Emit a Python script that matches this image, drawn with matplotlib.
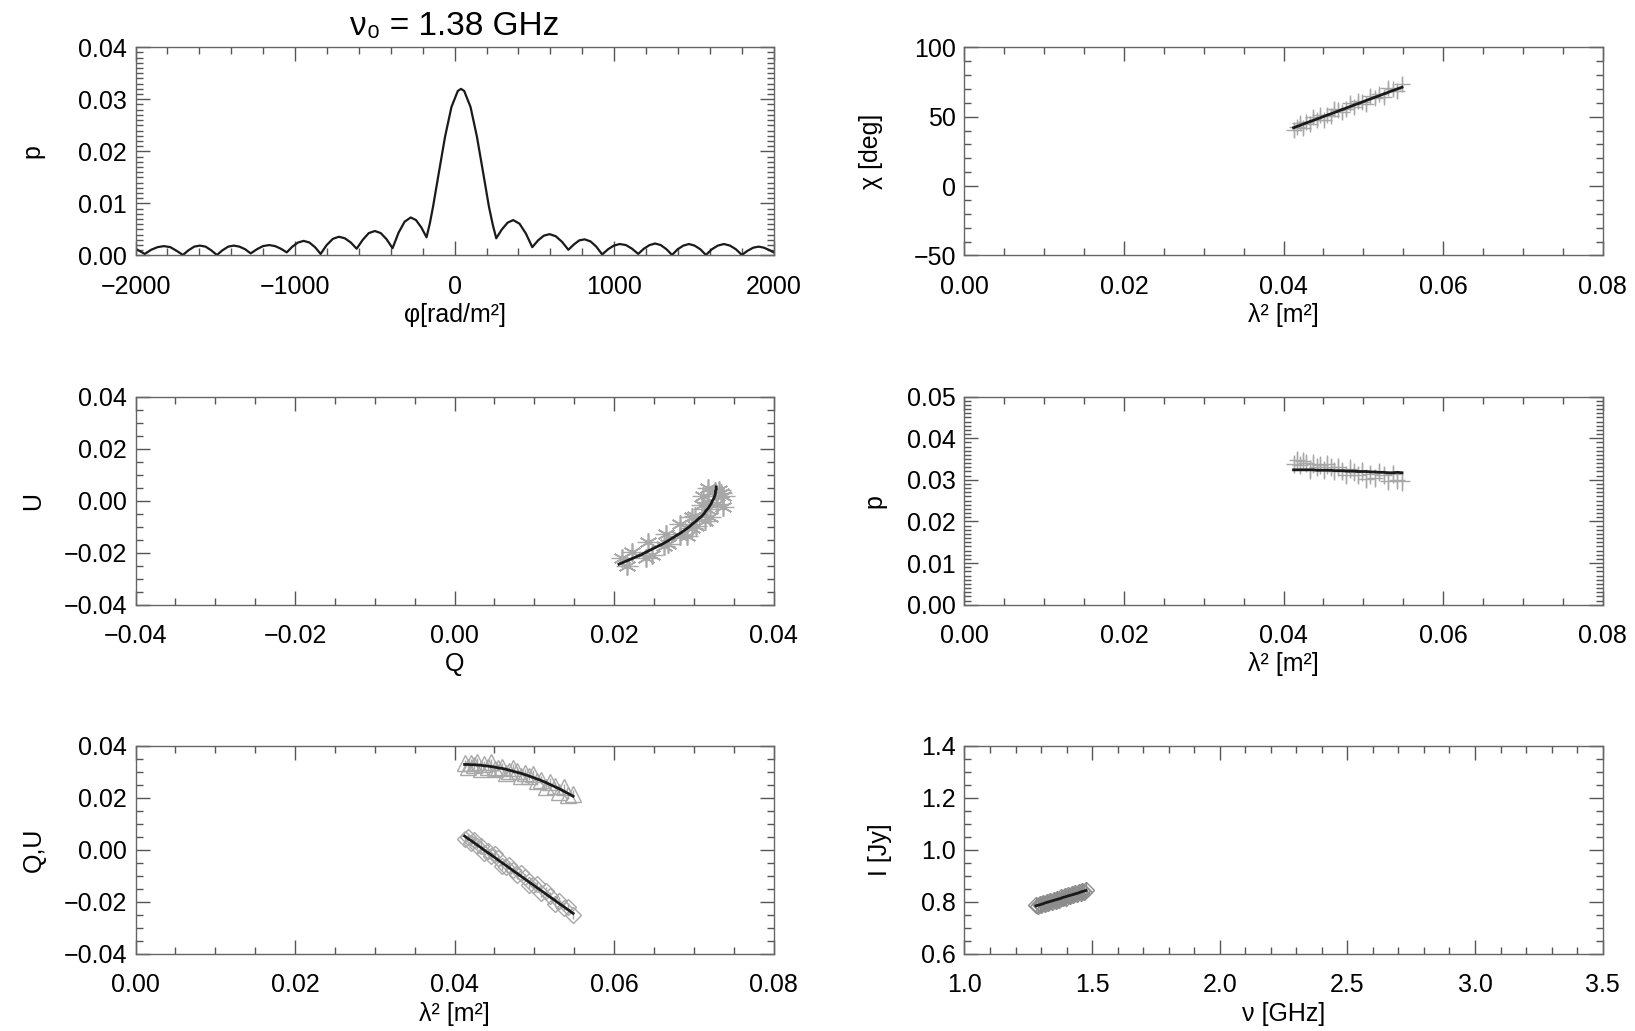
import matplotlib.pyplot as plt
from matplotlib.ticker import MultipleLocator, FuncFormatter

plt.rcParams['font.family'] = ['Liberation Sans', 'DejaVu Sans']
plt.rcParams['font.size'] = 18

# Faraday spectrum amplitude |F(phi)|
phi = [-2000, -1971, -1942, -1902, -1862, -1822, -1782, -1743, -1703,
       -1668, -1632, -1597, -1561, -1526, -1490,
       -1455, -1419, -1384, -1349, -1313, -1278,
       -1239, -1201, -1162, -1125, -1089, -1052,
       -1017, -981, -946, -911, -875, -840,
       -802, -763, -725, -688, -651, -614,
       -576, -538, -500, -463, -426, -389,
       -351, -313, -275, -242, -209, -176,
       -155, -135, -100, -60, -20, 20, 40, 60, 100, 140, 180, 215, 240, 261,
       296, 332, 367, 407, 447, 487,
       523, 559, 595, 634, 674, 713,
       747, 781, 815, 852, 888, 925,
       962, 998, 1035, 1074, 1112, 1151,
       1186, 1222, 1257, 1292, 1328, 1363,
       1398, 1434, 1469, 1504, 1540, 1575,
       1613, 1650, 1688, 1726, 1763, 1801,
       1836, 1872, 1907, 1938, 1969, 2000]
p_phi = [0.0013, 0.0008, 0.0003, 0.0011, 0.0016, 0.0018, 0.0016, 0.0009, 0.0001,
         0.0010, 0.0017, 0.0019, 0.0017, 0.0010, 0.0001,
         0.0010, 0.0017, 0.0019, 0.0017, 0.0012, 0.0004,
         0.0012, 0.0018, 0.0020, 0.0018, 0.0013, 0.0006,
         0.0017, 0.0025, 0.0028, 0.0025, 0.0016, 0.0003,
         0.0020, 0.0032, 0.0036, 0.0033, 0.0025, 0.0013,
         0.0030, 0.0043, 0.0047, 0.0043, 0.0031, 0.0014,
         0.0044, 0.0065, 0.0073, 0.0068, 0.0054, 0.0035,
         0.0062, 0.0094, 0.0157, 0.0228, 0.0285, 0.0316, 0.0320, 0.0316, 0.0285, 0.0228,
         0.0157, 0.0094, 0.0058, 0.0033,
         0.0050, 0.0063, 0.0068, 0.0061, 0.0042, 0.0016,
         0.0029, 0.0038, 0.0041, 0.0037, 0.0026, 0.0011,
         0.0021, 0.0029, 0.0031, 0.0027, 0.0017, 0.0002,
         0.0012, 0.0019, 0.0022, 0.0020, 0.0013, 0.0003,
         0.0013, 0.0020, 0.0023, 0.0020, 0.0012, 0.0001,
         0.0012, 0.0019, 0.0022, 0.0019, 0.0012, 0.0001,
         0.0012, 0.0019, 0.0022, 0.0019, 0.0012, 0.0001,
         0.0009, 0.0015, 0.0017, 0.0015, 0.0011, 0.0006]

# channel data (frequency ascending)
nu_ghz = [1.280, 1.287, 1.294, 1.301, 1.308, 1.315, 1.322, 1.329, 1.336, 1.343,
          1.350, 1.357, 1.364, 1.371, 1.378, 1.385, 1.392, 1.399, 1.406, 1.413,
          1.420, 1.427, 1.434, 1.441, 1.448, 1.455, 1.462, 1.469, 1.476]
lam2 = [0.05485, 0.05426, 0.05367, 0.05310, 0.05253, 0.05197, 0.05142, 0.05088, 0.05035, 0.04983,
        0.04931, 0.04881, 0.04831, 0.04781, 0.04733, 0.04685, 0.04638, 0.04592, 0.04546, 0.04501,
        0.04457, 0.04414, 0.04371, 0.04328, 0.04286, 0.04245, 0.04205, 0.04165, 0.04125]

q_obs = [0.0216, 0.0210, 0.0240, 0.0223, 0.0247, 0.0262, 0.0243, 0.0268, 0.0265, 0.0291,
         0.0282, 0.0297, 0.0283, 0.0303, 0.0314, 0.0301, 0.0297, 0.0320, 0.0316, 0.0310,
         0.0336, 0.0318, 0.0329, 0.0311, 0.0337, 0.0326, 0.0334, 0.0318, 0.0332]
u_obs = [-0.0251, -0.0219, -0.0222, -0.0196, -0.0207, -0.0176, -0.0158, -0.0167, -0.0130, -0.0136,
         -0.0135, -0.0106, -0.0088, -0.0097, -0.0078, -0.0058, -0.0064, -0.0062, -0.0031, -0.0015,
         -0.0025, -0.0006, -0.0012, 0.0016, 0.0016, 0.0039, 0.0028, 0.0049, 0.0041]
q_mod = [0.0206, 0.0216, 0.0226, 0.0235, 0.0243, 0.0251, 0.0259, 0.0266, 0.0272, 0.0278,
         0.0284, 0.0289, 0.0294, 0.0298, 0.0302, 0.0306, 0.0310, 0.0313, 0.0315, 0.0318,
         0.0320, 0.0322, 0.0323, 0.0325, 0.0326, 0.0327, 0.0327, 0.0328, 0.0328]
u_mod = [-0.0244, -0.0231, -0.0218, -0.0206, -0.0193, -0.0181, -0.0169, -0.0157, -0.0146, -0.0134,
         -0.0123, -0.0112, -0.0101, -0.0090, -0.0080, -0.0069, -0.0059, -0.0049, -0.0039, -0.0029,
         -0.0019, -0.0010, -0.0001, 0.0009, 0.0018, 0.0027, 0.0036, 0.0044, 0.0053]

p_obs = [0.0296, 0.0300, 0.0314, 0.0298, 0.0311, 0.0319, 0.0305, 0.0313, 0.0303, 0.0320,
         0.0311, 0.0319, 0.0327, 0.0311, 0.0322, 0.0330, 0.0321, 0.0330, 0.0337, 0.0323,
         0.0335, 0.0330, 0.0339, 0.0325, 0.0340, 0.0345, 0.0335, 0.0347, 0.0338]
p_mod = [0.0317, 0.0318, 0.0317, 0.0317, 0.0318, 0.0318, 0.0319, 0.0319, 0.0320, 0.0320,
         0.0320, 0.0321, 0.0321, 0.0321, 0.0322, 0.0322, 0.0322, 0.0323, 0.0323, 0.0323,
         0.0323, 0.0323, 0.0324, 0.0324, 0.0324, 0.0324, 0.0324, 0.0324, 0.0324]

chi_obs = [73.7, 68.2, 69.6, 70.5, 64.1, 66.4, 63.3, 64.8, 58.8, 60.9,
           61.0, 57.0, 59.8, 55.2, 53.1, 55.1, 55.8, 50.4, 51.5, 47.6,
           51.0, 47.5, 49.5, 45.0, 46.3, 42.0, 45.2, 42.6, 40.1]
chi_mod = [71.2, 70.0, 68.7, 67.5, 66.3, 65.0, 63.9, 62.7, 61.6, 60.4,
           59.3, 58.3, 57.2, 56.1, 55.1, 54.0, 53.0, 52.0, 51.1, 50.1,
           49.1, 48.2, 47.3, 46.4, 45.5, 44.6, 43.7, 42.9, 42.0]

i_obs = [0.789, 0.784, 0.792, 0.788, 0.797, 0.793, 0.801, 0.797, 0.805, 0.801,
         0.809, 0.804, 0.813, 0.809, 0.817, 0.814, 0.822, 0.816, 0.826, 0.821,
         0.830, 0.826, 0.834, 0.829, 0.838, 0.835, 0.843, 0.837, 0.847]
i_mod = [0.785, 0.787, 0.789, 0.791, 0.793, 0.796, 0.798, 0.800, 0.802, 0.804,
         0.806, 0.808, 0.810, 0.812, 0.814, 0.817, 0.819, 0.821, 0.823, 0.825,
         0.827, 0.829, 0.831, 0.833, 0.835, 0.838, 0.840, 0.842, 0.844]

chi_err = 4.5
p_err = 0.0022
qu_err = 0.0014
i_err = 0.028

GREY = '#a8a8a8'
INK = '#1a1a1a'


def fmt(decimals):
    def f(x, pos):
        if abs(x) < 1e-12:
            x = 0.0
        return f"{x:.{decimals}f}".replace('-', '\u2212')
    return FuncFormatter(f)


def style(ax, xlim, ylim, xmaj, xmin, ymaj, ymin, xdec, ydec):
    ax.set_xlim(*xlim)
    ax.set_ylim(*ylim)
    ax.xaxis.set_major_locator(MultipleLocator(xmaj))
    ax.xaxis.set_minor_locator(MultipleLocator(xmin))
    ax.yaxis.set_major_locator(MultipleLocator(ymaj))
    ax.yaxis.set_minor_locator(MultipleLocator(ymin))
    ax.xaxis.set_major_formatter(fmt(xdec))
    ax.yaxis.set_major_formatter(fmt(ydec))
    ax.tick_params(which='both', direction='in', top=True, right=True,
                   color='#555555', width=1.0)
    ax.tick_params(which='major', length=10)
    ax.tick_params(which='minor', length=5)
    ax.tick_params(axis='x', pad=14)
    ax.tick_params(axis='y', pad=6)
    for s in ax.spines.values():
        s.set_color('#666666')
        s.set_linewidth(1.0)


def labels(ax, xlabel, ylabel, ycoord):
    ax.set_xlabel(xlabel, labelpad=3)
    ax.set_ylabel(ylabel)
    ax.yaxis.set_label_coords(ycoord, 0.5)


fig = plt.figure(figsize=(16.35, 10.31), dpi=100)
W, H = 0.3903, 0.2020
ax_rm = fig.add_axes([0.0829, 0.7522, W, H])
ax_chi = fig.add_axes([0.5899, 0.7522, W, H])
ax_uq = fig.add_axes([0.0829, 0.4134, W, H])
ax_p = fig.add_axes([0.5899, 0.4134, W, H])
ax_qu = fig.add_axes([0.0829, 0.0747, W, H])
ax_i = fig.add_axes([0.5899, 0.0747, W, H])

# Faraday spectrum
ax_rm.plot(phi, p_phi, color=INK, lw=1.6)
style(ax_rm, (-2000, 2000), (0, 0.04), 1000, 200, 0.01, 0.001, 0, 2)
labels(ax_rm, '\u03c6[rad/m\u00b2]', 'p', -0.143)
ax_rm.set_title('\u03bd\u2080 = 1.38 GHz', fontsize=24, pad=9)

# polarisation angle
ax_chi.errorbar(lam2, chi_obs, yerr=chi_err, fmt='+', color=GREY, ms=11,
                elinewidth=1.0, capsize=0, zorder=2)
ax_chi.plot(lam2, chi_mod, color=INK, lw=2.0, zorder=3)
style(ax_chi, (0, 0.08), (-50, 100), 0.02, 0.005, 50, 10, 2, 0)
labels(ax_chi, '\u03bb\u00b2 [m\u00b2]', '\u03c7 [deg]', -0.128)

# Stokes U against Q
ax_uq.errorbar(q_obs, u_obs, xerr=qu_err, yerr=qu_err, fmt='none', ecolor=GREY,
               elinewidth=1.0, capsize=0, zorder=2)
ax_uq.plot(q_obs, u_obs, ls='none', marker=(6, 2, 0), ms=13, mec=GREY, mew=1.2, zorder=2)
ax_uq.plot(q_mod, u_mod, color=INK, lw=2.0, zorder=3)
style(ax_uq, (-0.04, 0.04), (-0.04, 0.04), 0.02, 0.005, 0.02, 0.005, 2, 2)
labels(ax_uq, 'Q', 'U', -0.142)

# fractional polarisation
ax_p.errorbar(lam2, p_obs, yerr=p_err, fmt='+', color=GREY, ms=11,
              elinewidth=1.0, capsize=0, zorder=2)
ax_p.plot(lam2, p_mod, color=INK, lw=2.0, zorder=3)
style(ax_p, (0, 0.08), (0, 0.05), 0.02, 0.005, 0.01, 0.001, 2, 2)
labels(ax_p, '\u03bb\u00b2 [m\u00b2]', 'p', -0.123)

# Q and U against lambda^2
ax_qu.errorbar(lam2, q_obs, yerr=qu_err, fmt='^', color=GREY, mfc='none', ms=11,
               elinewidth=1.0, capsize=0, zorder=2)
ax_qu.errorbar(lam2, u_obs, yerr=qu_err, fmt='D', color=GREY, mfc='none', ms=8,
               elinewidth=1.0, capsize=0, zorder=2)
ax_qu.plot(lam2, q_mod, color=INK, lw=2.0, zorder=3)
ax_qu.plot(lam2, u_mod, color=INK, lw=2.0, zorder=3)
style(ax_qu, (0, 0.08), (-0.04, 0.04), 0.02, 0.005, 0.02, 0.005, 2, 2)
labels(ax_qu, '\u03bb\u00b2 [m\u00b2]', 'Q,U', -0.141)

# total intensity spectrum
ax_i.errorbar(nu_ghz, i_obs, yerr=i_err, fmt='D', color='#8c8c8c', mfc='none', ms=8,
              elinewidth=1.0, capsize=0, zorder=2)
ax_i.plot(nu_ghz, i_mod, color=INK, lw=2.0, zorder=3)
style(ax_i, (1.0, 3.5), (0.6, 1.4), 0.5, 0.1, 0.2, 0.05, 1, 1)
labels(ax_i, '\u03bd [GHz]', 'I [Jy]', -0.114)

fig.savefig('out.png', dpi=100)
